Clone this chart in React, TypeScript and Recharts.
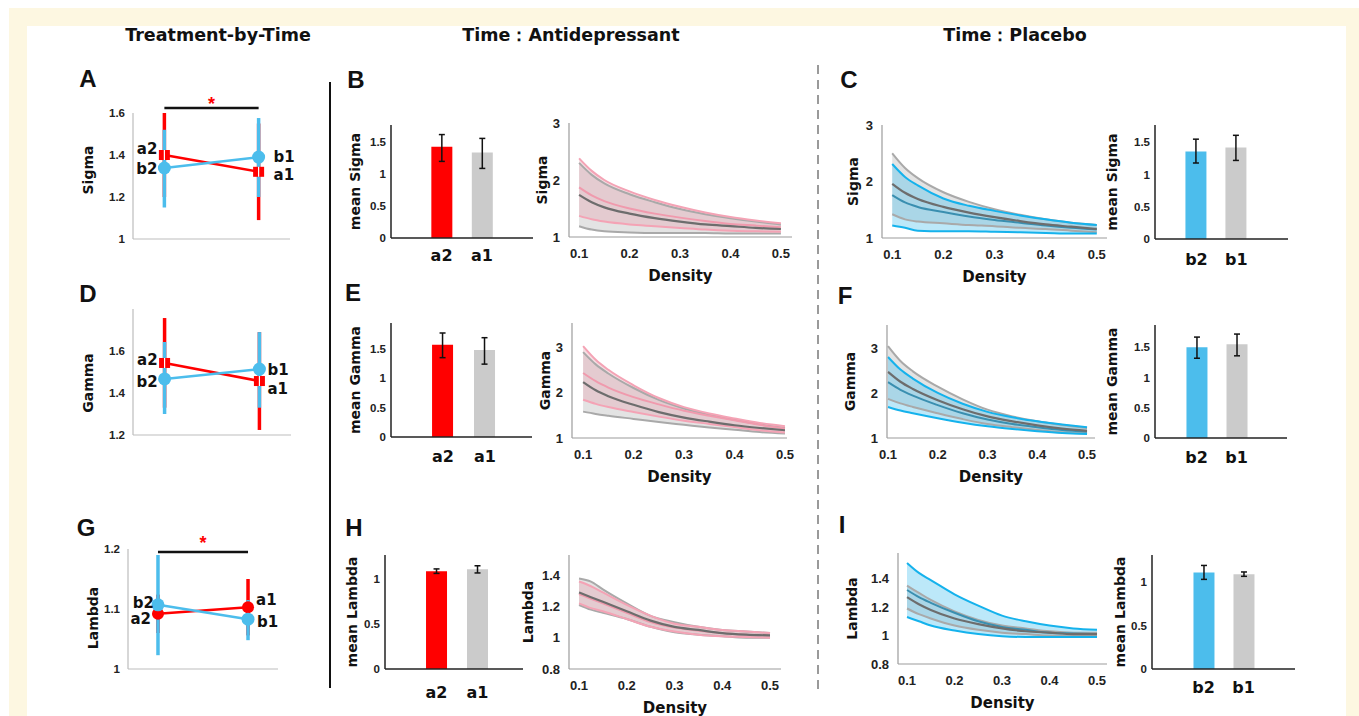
import React from 'react';
import { ComposedChart, Line, Area, Bar, Cell, XAxis, YAxis, ErrorBar, ReferenceLine } from 'recharts';

const TICK_FONT = "'Liberation Sans', Arial, sans-serif";
const TITLE_FONT = "'DejaVu Sans', 'Liberation Sans', sans-serif";
const RED = '#ff0000';
const BLUE = '#4cbdec';
const LIGHT_GRAY = '#cbcbcb';

// ---------- data ----------
const sessions = [1, 2];
const antiNames = ['a2', 'a1'];
const placNames = ['b2', 'b1'];
const density = [0.1, 0.125, 0.15, 0.2, 0.25, 0.3, 0.35, 0.4, 0.45, 0.5];
const densityTicks = [0.1, 0.2, 0.3, 0.4, 0.5];

// treatment-by-time (mean, lower, upper) for a2/a1 and b2/b1
const sigmaAntiMean = [1.4, 1.32];
const sigmaAntiLo = [1.2, 1.09];
const sigmaAntiHi = [1.6, 1.55];
const sigmaPlacMean = [1.338, 1.39];
const sigmaPlacLo = [1.15, 1.2];
const sigmaPlacHi = [1.52, 1.576];

const gammaAntiMean = [1.543, 1.457];
const gammaAntiLo = [1.33, 1.224];
const gammaAntiHi = [1.757, 1.69];
const gammaPlacMean = [1.467, 1.514];
const gammaPlacLo = [1.3, 1.33];
const gammaPlacHi = [1.643, 1.69];

const lambdaAntiMean = [1.092, 1.103];
const lambdaAntiLo = [1.06, 1.056];
const lambdaAntiHi = [1.124, 1.15];
const lambdaPlacMean = [1.107, 1.083];
const lambdaPlacLo = [1.023, 1.048];
const lambdaPlacHi = [1.19, 1.115];

// bar charts
const sigmaBarAnti = [1.43, 1.34];
const sigmaBarAntiLo = [1.2, 1.09];
const sigmaBarAntiHi = [1.62, 1.56];
const sigmaBarPlac = [1.36, 1.42];
const sigmaBarPlacLo = [1.18, 1.22];
const sigmaBarPlacHi = [1.55, 1.61];

const gammaBarAnti = [1.57, 1.48];
const gammaBarAntiLo = [1.35, 1.24];
const gammaBarAntiHi = [1.77, 1.69];
const gammaBarPlac = [1.5, 1.55];
const gammaBarPlacLo = [1.32, 1.36];
const gammaBarPlacHi = [1.67, 1.72];

const lambdaBarAnti = [1.09, 1.11];
const lambdaBarAntiLo = [1.065, 1.07];
const lambdaBarAntiHi = [1.115, 1.15];
const lambdaBarPlac = [1.11, 1.09];
const lambdaBarPlacLo = [1.03, 1.065];
const lambdaBarPlacHi = [1.19, 1.115];

// curves over density: upper / mean / lower
const sigmaA2Up = [2.38, 2.16, 2.0, 1.8, 1.65, 1.53, 1.43, 1.35, 1.29, 1.24];
const sigmaA2Mid = [1.87, 1.73, 1.63, 1.5, 1.41, 1.34, 1.28, 1.23, 1.2, 1.17];
const sigmaA2Low = [1.37, 1.31, 1.27, 1.22, 1.19, 1.16, 1.13, 1.11, 1.1, 1.09];
const sigmaA1Up = [2.3, 2.09, 1.94, 1.75, 1.61, 1.49, 1.4, 1.33, 1.27, 1.22];
const sigmaA1Mid = [1.74, 1.61, 1.52, 1.41, 1.33, 1.27, 1.22, 1.19, 1.16, 1.14];
const sigmaA1Low = [1.19, 1.13, 1.1, 1.08, 1.07, 1.07, 1.07, 1.06, 1.06, 1.06];

const sigmaB2Up = [2.31, 2.08, 1.93, 1.7, 1.57, 1.48, 1.4, 1.33, 1.27, 1.23];
const sigmaB2Mid = [1.76, 1.63, 1.55, 1.46, 1.38, 1.32, 1.27, 1.22, 1.18, 1.15];
const sigmaB2Low = [1.22, 1.18, 1.13, 1.12, 1.12, 1.11, 1.1, 1.09, 1.08, 1.08];
const sigmaB1Up = [2.5, 2.24, 2.06, 1.81, 1.64, 1.51, 1.41, 1.33, 1.27, 1.23];
const sigmaB1Mid = [1.96, 1.8, 1.69, 1.55, 1.45, 1.37, 1.3, 1.24, 1.2, 1.16];
const sigmaB1Low = [1.42, 1.33, 1.29, 1.26, 1.23, 1.21, 1.18, 1.16, 1.13, 1.1];

const gammaA2Up = [3.02, 2.72, 2.5, 2.16, 1.88, 1.68, 1.54, 1.43, 1.33, 1.26];
const gammaA2Mid = [2.43, 2.25, 2.11, 1.9, 1.74, 1.6, 1.49, 1.39, 1.29, 1.21];
const gammaA2Low = [1.84, 1.75, 1.68, 1.57, 1.47, 1.38, 1.31, 1.24, 1.17, 1.12];
const gammaA1Up = [2.89, 2.62, 2.42, 2.1, 1.84, 1.65, 1.51, 1.4, 1.3, 1.22];
const gammaA1Mid = [2.23, 2.05, 1.92, 1.73, 1.57, 1.45, 1.36, 1.28, 1.22, 1.17];
const gammaA1Low = [1.58, 1.53, 1.49, 1.42, 1.35, 1.29, 1.23, 1.18, 1.13, 1.1];

const gammaB2Up = [2.8, 2.52, 2.32, 2.0, 1.76, 1.58, 1.46, 1.37, 1.3, 1.24];
const gammaB2Mid = [2.24, 2.07, 1.94, 1.73, 1.55, 1.41, 1.31, 1.24, 1.18, 1.14];
const gammaB2Low = [1.69, 1.61, 1.55, 1.44, 1.34, 1.26, 1.2, 1.15, 1.11, 1.09];
const gammaB1Up = [3.04, 2.71, 2.48, 2.14, 1.86, 1.63, 1.48, 1.37, 1.29, 1.22];
const gammaB1Mid = [2.47, 2.25, 2.09, 1.84, 1.64, 1.48, 1.37, 1.28, 1.21, 1.16];
const gammaB1Low = [1.87, 1.77, 1.69, 1.55, 1.42, 1.31, 1.24, 1.18, 1.13, 1.1];

const lambdaA2Up = [1.36, 1.33, 1.29, 1.21, 1.14, 1.09, 1.07, 1.05, 1.04, 1.03];
const lambdaA2Mid = [1.28, 1.25, 1.22, 1.16, 1.1, 1.065, 1.045, 1.03, 1.02, 1.015];
const lambdaA2Low = [1.22, 1.19, 1.17, 1.12, 1.07, 1.04, 1.02, 1.01, 1.005, 1.0];
const lambdaA1Up = [1.38, 1.36, 1.31, 1.22, 1.14, 1.1, 1.07, 1.05, 1.04, 1.03];
const lambdaA1Mid = [1.29, 1.26, 1.23, 1.17, 1.11, 1.07, 1.05, 1.03, 1.02, 1.015];
const lambdaA1Low = [1.21, 1.18, 1.16, 1.12, 1.07, 1.035, 1.02, 1.01, 1.0, 1.0];

const lambdaB2Up = [1.51, 1.44, 1.39, 1.29, 1.21, 1.14, 1.1, 1.07, 1.05, 1.04];
const lambdaB2Mid = [1.32, 1.27, 1.23, 1.16, 1.1, 1.06, 1.04, 1.02, 1.015, 1.01];
const lambdaB2Low = [1.13, 1.1, 1.07, 1.035, 1.01, 0.995, 0.99, 0.99, 0.99, 0.99];
const lambdaB1Up = [1.35, 1.3, 1.25, 1.17, 1.11, 1.07, 1.05, 1.03, 1.02, 1.02];
const lambdaB1Mid = [1.27, 1.22, 1.18, 1.12, 1.08, 1.05, 1.03, 1.02, 1.01, 1.01];
const lambdaB1Low = [1.19, 1.15, 1.12, 1.07, 1.04, 1.02, 1.01, 1.0, 1.0, 1.0];

// ---------- helpers ----------
type Rect = { x0: number; y0: number; x1: number; y1: number };
type Pad = { l: number; r: number; t: number; b: number };

const box = (r: Rect, p: Pad) => ({
  left: r.x0 - p.l,
  top: r.y0 - p.t,
  width: r.x1 - r.x0 + p.l + p.r,
  height: r.y1 - r.y0 + p.t + p.b,
});

const fmt = (v: number) => String(Number(v.toFixed(2)));

const yTitle = (text: string, x: number, y: number, size = 14) => () => (
  <text
    x={x}
    y={y}
    transform={`rotate(-90 ${x} ${y})`}
    textAnchor="middle"
    dominantBaseline="central"
    fontSize={size}
    fontWeight={700}
    fontFamily={TITLE_FONT}
    fill="#111"
  >
    {text}
  </text>
);

const xTitle = (text: string, x: number, y: number) => () => (
  <text x={x} y={y} textAnchor="middle" dominantBaseline="central" fontSize={15} fontWeight={700} fontFamily={TITLE_FONT} fill="#111">
    {text}
  </text>
);

// ---------- treatment-by-time panel ----------
type Lab = { dx: number; dy: number };

function TrendPanel(props: {
  rect: Rect;
  yDomain: number[];
  yTicks: number[];
  title: string;
  titleX: number;
  titleDy: number;
  redMean: number[];
  redLo: number[];
  redHi: number[];
  blueMean: number[];
  blueLo: number[];
  blueHi: number[];
  redShape: 'square' | 'circle';
  redLabs: Lab[];
  blueLabs: Lab[];
  sigY?: number;
  starDy?: number;
}) {
  const { rect, redMean, redLo, redHi, blueMean, blueLo, blueHi } = props;
  const pad = { l: 60, r: 40, t: 40, b: 20 };
  const b = box(rect, pad);
  const rows = sessions.map((s, i) => ({
    x: s,
    red: redMean[i],
    redErr: [redMean[i] - redLo[i], redHi[i] - redMean[i]],
    blue: blueMean[i],
    blueErr: [blueMean[i] - blueLo[i], blueHi[i] - blueMean[i]],
  }));
  const labText = (x: number, y: number, l: Lab, t: string) => (
    <text x={x + l.dx} y={y + l.dy} textAnchor={l.dx < 0 ? 'end' : 'start'} dominantBaseline="central" fontSize={15} fontWeight={700} fontFamily={TITLE_FONT} fill="#111">
      {t}
    </text>
  );
  const redDot = (p: any) => {
    const { cx, cy, index } = p;
    return (
      <g key={`r${index}`}>
        {props.redShape === 'square' ? (
          <>
            <rect x={cx - 5.5} y={cy - 5} width={11} height={10} fill={RED} />
            <line x1={cx} x2={cx} y1={cy - 5} y2={cy + 5} stroke="#fff" strokeWidth={1.2} />
          </>
        ) : (
          <circle cx={cx} cy={cy} r={6} fill={RED} />
        )}
        {labText(cx, cy, props.redLabs[index], antiNames[index])}
      </g>
    );
  };
  const blueDot = (p: any) => {
    const { cx, cy, index } = p;
    return (
      <g key={`b${index}`}>
        <circle cx={cx} cy={cy} r={6.5} fill={BLUE} />
        {labText(cx, cy, props.blueLabs[index], placNames[index])}
      </g>
    );
  };
  const star = (p: any) => {
    const vb = p.viewBox || {};
    const x = (vb.x ?? 0) + (vb.width ?? 0) / 2;
    return (
      <text x={x} y={(vb.y ?? 0) + (props.starDy ?? 0)} textAnchor="middle" fontSize={18} fontWeight={700} fontFamily={TICK_FONT} fill={RED}>
        *
      </text>
    );
  };
  const ph = rect.y1 - rect.y0;
  return (
    <div style={{ position: 'absolute', left: b.left, top: b.top }}>
      <ComposedChart width={b.width} height={b.height} data={rows} margin={{ top: pad.t, right: pad.r, left: 0, bottom: 0 }}>
        <XAxis type="number" dataKey="x" domain={[0.667, 2.333]} height={pad.b} tick={false} tickLine={false} axisLine={{ stroke: '#bdbdbd', strokeWidth: 1.2 }} />
        <YAxis
          type="number"
          domain={props.yDomain}
          ticks={props.yTicks}
          interval={0}
          width={pad.l}
          tickSize={0}
          tickMargin={8}
          tickFormatter={fmt}
          axisLine={{ stroke: '#bdbdbd', strokeWidth: 1.2 }}
          tick={{ fontSize: 11.5, fontWeight: 700, fill: '#222', fontFamily: TICK_FONT }}
          label={yTitle(props.title, props.titleX - b.left, pad.t + ph / 2 + props.titleDy)}
        />
        {props.sigY !== undefined && (
          <ReferenceLine
            segment={[{ x: 1, y: props.sigY }, { x: 2, y: props.sigY }]}
            stroke="#111"
            strokeWidth={2.5}
            ifOverflow="visible"
            label={star}
          />
        )}
        <Line dataKey="red" stroke={RED} strokeWidth={2.5} dot={redDot} activeDot={false} isAnimationActive={false}>
          <ErrorBar dataKey="redErr" direction="y" width={0} stroke={RED} strokeWidth={3.5} />
        </Line>
        <Line dataKey="blue" stroke={BLUE} strokeWidth={2.5} dot={blueDot} activeDot={false} isAnimationActive={false}>
          <ErrorBar dataKey="blueErr" direction="y" width={0} stroke={BLUE} strokeWidth={3.5} />
        </Line>
      </ComposedChart>
    </div>
  );
}

// ---------- bar panel ----------
function BarPanel(props: {
  rect: Rect;
  yMax: number;
  yTicks: number[];
  xDomain: number[];
  names: string[];
  means: number[];
  lows: number[];
  highs: number[];
  colors: string[];
  title: string;
  titleX: number;
  labelMargin: number;
}) {
  const { rect, names, means, lows, highs } = props;
  const pad = { l: 60, r: 10, t: 10, b: 40 };
  const b = box(rect, pad);
  const ph = rect.y1 - rect.y0;
  const rows = names.map((n, i) => ({ x: i + 1, mean: means[i], err: [means[i] - lows[i], highs[i] - means[i]] }));
  return (
    <div style={{ position: 'absolute', left: b.left, top: b.top }}>
      <ComposedChart width={b.width} height={b.height} data={rows} margin={{ top: pad.t, right: pad.r, left: 0, bottom: 0 }}>
        <XAxis
          type="number"
          dataKey="x"
          domain={props.xDomain}
          allowDataOverflow
          ticks={[1, 2]}
          interval={0}
          tickFormatter={(v) => names[v - 1]}
          height={pad.b}
          tickSize={0}
          tickMargin={props.labelMargin}
          axisLine={{ stroke: '#222', strokeWidth: 1.5 }}
          tick={{ fontSize: 16, fontWeight: 700, fill: '#111', fontFamily: TITLE_FONT }}
        />
        <YAxis
          type="number"
          domain={[0, props.yMax]}
          allowDataOverflow
          ticks={props.yTicks}
          interval={0}
          width={pad.l}
          tickSize={0}
          tickMargin={5}
          tickFormatter={fmt}
          axisLine={{ stroke: '#222', strokeWidth: 1.5 }}
          tick={{ fontSize: 11.5, fontWeight: 700, fill: '#222', fontFamily: TICK_FONT }}
          label={yTitle(props.title, props.titleX - b.left, pad.t + ph / 2)}
        />
        <Bar dataKey="mean" barSize={21} isAnimationActive={false}>
          {rows.map((r, i) => (
            <Cell key={i} fill={props.colors[i]} />
          ))}
          <ErrorBar dataKey="err" direction="y" width={3} stroke="#111" strokeWidth={1.5} />
        </Bar>
      </ComposedChart>
    </div>
  );
}

// ---------- density curve panel ----------
const SCHEMES = {
  pink: { line: '#f4a3b5', mid: '#f09aad', fill: '#e8a6b4', opacity: 0.38 },
  blue: { line: '#15b2ec', mid: '#3a8fb0', fill: '#4ec3ef', opacity: 0.38 },
};

function CurvePanel(props: {
  rect: Rect;
  yDomain: number[];
  yTicks: number[];
  xDomain: number[];
  title: string;
  titleX: number;
  scheme: 'pink' | 'blue';
  grayUp: number[];
  grayMid: number[];
  grayLow: number[];
  colUp: number[];
  colMid: number[];
  colLow: number[];
}) {
  const { rect, grayUp, grayMid, grayLow, colUp, colMid, colLow } = props;
  const pad = { l: 60, r: 12, t: 12, b: 52 };
  const b = box(rect, pad);
  const pw = rect.x1 - rect.x0;
  const ph = rect.y1 - rect.y0;
  const c = SCHEMES[props.scheme];
  const rows = density.map((x, i) => ({
    x,
    gu: grayUp[i],
    gm: grayMid[i],
    gl: grayLow[i],
    cu: colUp[i],
    cm: colMid[i],
    cl: colLow[i],
    gBand: [grayLow[i], grayUp[i]],
    cBand: [colLow[i], colUp[i]],
  }));
  const tick = { fontSize: 13, fontWeight: 700, fill: '#222', fontFamily: TICK_FONT };
  return (
    <div style={{ position: 'absolute', left: b.left, top: b.top }}>
      <ComposedChart width={b.width} height={b.height} data={rows} margin={{ top: pad.t, right: pad.r, left: 0, bottom: 0 }}>
        <XAxis
          type="number"
          dataKey="x"
          domain={props.xDomain}
          allowDataOverflow
          ticks={densityTicks}
          interval={0}
          tickFormatter={(v) => v.toFixed(1)}
          height={pad.b}
          tickSize={0}
          tickMargin={12}
          axisLine={{ stroke: '#9c9c9c', strokeWidth: 1.2 }}
          tick={tick}
          label={xTitle('Density', pad.l + pw / 2, pad.t + ph + 39)}
        />
        <YAxis
          type="number"
          domain={props.yDomain}
          allowDataOverflow
          ticks={props.yTicks}
          interval={0}
          width={pad.l}
          tickSize={0}
          tickMargin={9}
          tickFormatter={fmt}
          axisLine={{ stroke: '#9c9c9c', strokeWidth: 1.2 }}
          tick={tick}
          label={yTitle(props.title, props.titleX - b.left, pad.t + ph / 2)}
        />
        <Area dataKey="gBand" type="monotone" stroke="none" fill="#b9b9b9" fillOpacity={0.4} isAnimationActive={false} />
        <Area dataKey="cBand" type="monotone" stroke="none" fill={c.fill} fillOpacity={c.opacity} isAnimationActive={false} />
        <Line dataKey="gl" type="monotone" stroke="#a9a9a9" strokeWidth={2} dot={false} activeDot={false} isAnimationActive={false} />
        <Line dataKey="gu" type="monotone" stroke="#a9a9a9" strokeWidth={2} dot={false} activeDot={false} isAnimationActive={false} />
        <Line dataKey="cl" type="monotone" stroke={c.line} strokeWidth={2} dot={false} activeDot={false} isAnimationActive={false} />
        <Line dataKey="cu" type="monotone" stroke={c.line} strokeWidth={2} dot={false} activeDot={false} isAnimationActive={false} />
        <Line dataKey="cm" type="monotone" stroke={c.mid} strokeWidth={2} dot={false} activeDot={false} isAnimationActive={false} />
        <Line dataKey="gm" type="monotone" stroke="#6d6d6d" strokeWidth={2.2} dot={false} activeDot={false} isAnimationActive={false} />
      </ComposedChart>
    </div>
  );
}

// ---------- page ----------
const Letter = ({ x, y, t }: { x: number; y: number; t: string }) => (
  <div style={{ position: 'absolute', left: x, top: y, transform: 'translate(-50%, -50%)', fontFamily: TICK_FONT, fontWeight: 700, fontSize: 24, lineHeight: 1, color: '#111' }}>{t}</div>
);

const Header = ({ x, t }: { x: number; t: string }) => (
  <div style={{ position: 'absolute', left: x, top: 36, transform: 'translate(-50%, -50%)', fontFamily: TITLE_FONT, fontWeight: 700, fontSize: 17.5, lineHeight: 1, whiteSpace: 'nowrap', color: '#111' }}>{t}</div>
);

export default function App() {
  return (
    <div style={{ position: 'absolute', left: 0, top: 0, width: 1359, height: 716, overflow: 'hidden', background: '#fff' }}>
      <div style={{ position: 'absolute', left: 9, top: 8, right: 0, bottom: 0, background: '#fdf7e1' }} />
      <div style={{ position: 'absolute', left: 27, top: 26, width: 1319, bottom: 0, background: '#fff' }} />

      <Header x={218} t="Treatment-by-Time" />
      <Header x={571} t="Time：Antidepressant" />
      <Header x={1015} t="Time：Placebo" />

      <div style={{ position: 'absolute', left: 329, top: 82, width: 2, height: 606, background: '#111' }} />
      <svg style={{ position: 'absolute', left: 812, top: 60 }} width={12} height={635}>
        <line x1={6} x2={6} y1={5} y2={630} stroke="#9a9a9a" strokeWidth={2} strokeDasharray="9 6" />
      </svg>

      <Letter x={88} y={79} t="A" />
      <Letter x={356} y={80} t="B" />
      <Letter x={849} y={80} t="C" />
      <Letter x={88} y={294} t="D" />
      <Letter x={353} y={293} t="E" />
      <Letter x={845} y={296} t="F" />
      <Letter x={86} y={528} t="G" />
      <Letter x={354} y={528} t="H" />
      <Letter x={842} y={525} t="I" />

      <TrendPanel
        rect={{ x0: 133, y0: 113, x1: 290, y1: 239 }}
        yDomain={[1, 1.6]}
        yTicks={[1, 1.2, 1.4, 1.6]}
        title="Sigma"
        titleX={88}
        titleDy={-6}
        redMean={sigmaAntiMean}
        redLo={sigmaAntiLo}
        redHi={sigmaAntiHi}
        blueMean={sigmaPlacMean}
        blueLo={sigmaPlacLo}
        blueHi={sigmaPlacHi}
        redShape="square"
        redLabs={[{ dx: -7, dy: -6 }, { dx: 15, dy: 3 }]}
        blueLabs={[{ dx: -7, dy: 1 }, { dx: 15, dy: 0 }]}
        sigY={1.624}
        starDy={2}
      />
      <TrendPanel
        rect={{ x0: 133, y0: 309, x1: 291, y1: 435 }}
        yDomain={[1.2, 1.8]}
        yTicks={[1.2, 1.4, 1.6]}
        title="Gamma"
        titleX={88}
        titleDy={11}
        redMean={gammaAntiMean}
        redLo={gammaAntiLo}
        redHi={gammaAntiHi}
        blueMean={gammaPlacMean}
        blueLo={gammaPlacLo}
        blueHi={gammaPlacHi}
        redShape="square"
        redLabs={[{ dx: -7, dy: -3 }, { dx: 8, dy: 8 }]}
        blueLabs={[{ dx: -7, dy: 3 }, { dx: 8, dy: 1 }]}
      />
      <TrendPanel
        rect={{ x0: 128, y0: 549, x1: 278, y1: 669 }}
        yDomain={[1, 1.2]}
        yTicks={[1, 1.1, 1.2]}
        title="Lambda"
        titleX={93}
        titleDy={9}
        redMean={lambdaAntiMean}
        redLo={lambdaAntiLo}
        redHi={lambdaAntiHi}
        blueMean={lambdaPlacMean}
        blueLo={lambdaPlacLo}
        blueHi={lambdaPlacHi}
        redShape="circle"
        redLabs={[{ dx: -7, dy: 5 }, { dx: 8, dy: -7 }]}
        blueLabs={[{ dx: -4, dy: -2 }, { dx: 9, dy: 3 }]}
        sigY={1.195}
        starDy={-3}
      />

      <BarPanel rect={{ x0: 391, y0: 125, x1: 533, y1: 238 }} yMax={1.77} yTicks={[0, 0.5, 1, 1.5]} xDomain={[-0.25, 3.26]} names={antiNames} means={sigmaBarAnti} lows={sigmaBarAntiLo} highs={sigmaBarAntiHi} colors={[RED, LIGHT_GRAY]} title="mean Sigma" titleX={355} labelMargin={12} />
      <BarPanel rect={{ x0: 1155, y0: 125, x1: 1288, y1: 239 }} yMax={1.77} yTicks={[0, 0.5, 1, 1.5]} xDomain={[-0.036, 3.29]} names={placNames} means={sigmaBarPlac} lows={sigmaBarPlacLo} highs={sigmaBarPlacHi} colors={[BLUE, LIGHT_GRAY]} title="mean Sigma" titleX={1112} labelMargin={15} />
      <BarPanel rect={{ x0: 391, y0: 323, x1: 532, y1: 437 }} yMax={1.94} yTicks={[0, 0.5, 1, 1.5]} xDomain={[-0.24, 3.12]} names={antiNames} means={gammaBarAnti} lows={gammaBarAntiLo} highs={gammaBarAntiHi} colors={[RED, LIGHT_GRAY]} title="mean Gamma" titleX={355} labelMargin={14} />
      <BarPanel rect={{ x0: 1155, y0: 325, x1: 1287, y1: 438 }} yMax={1.87} yTicks={[0, 0.5, 1, 1.5]} xDomain={[-0.036, 3.26]} names={placNames} means={gammaBarPlac} lows={gammaBarPlacLo} highs={gammaBarPlacHi} colors={[BLUE, LIGHT_GRAY]} title="mean Gamma" titleX={1112} labelMargin={14} />
      <BarPanel rect={{ x0: 385, y0: 555, x1: 523, y1: 669 }} yMax={1.27} yTicks={[0, 0.5, 1]} xDomain={[-0.257, 3.11]} names={antiNames} means={lambdaBarAnti} lows={lambdaBarAntiLo} highs={lambdaBarAntiHi} colors={[RED, LIGHT_GRAY]} title="mean Lambda" titleX={352} labelMargin={18} />
      <BarPanel rect={{ x0: 1152, y0: 555, x1: 1295, y1: 669 }} yMax={1.31} yTicks={[0, 0.5, 1]} xDomain={[-0.287, 3.288]} names={placNames} means={lambdaBarPlac} lows={lambdaBarPlacLo} highs={lambdaBarPlacHi} colors={[BLUE, LIGHT_GRAY]} title="mean Lambda" titleX={1120} labelMargin={13} />

      <CurvePanel rect={{ x0: 569, y0: 123, x1: 792, y1: 237 }} yDomain={[1, 3]} yTicks={[1, 2, 3]} xDomain={[0.08, 0.522]} title="Sigma" titleX={542} scheme="pink" grayUp={sigmaA1Up} grayMid={sigmaA1Mid} grayLow={sigmaA1Low} colUp={sigmaA2Up} colMid={sigmaA2Mid} colLow={sigmaA2Low} />
      <CurvePanel rect={{ x0: 882, y0: 125, x1: 1107, y1: 238 }} yDomain={[1, 3]} yTicks={[1, 2, 3]} xDomain={[0.08, 0.52]} title="Sigma" titleX={853} scheme="blue" grayUp={sigmaB1Up} grayMid={sigmaB1Mid} grayLow={sigmaB1Low} colUp={sigmaB2Up} colMid={sigmaB2Mid} colLow={sigmaB2Low} />
      <CurvePanel rect={{ x0: 572, y0: 323, x1: 787, y1: 438 }} yDomain={[1, 3.53]} yTicks={[1, 2, 3]} xDomain={[0.078, 0.504]} title="Gamma" titleX={545} scheme="pink" grayUp={gammaA1Up} grayMid={gammaA1Mid} grayLow={gammaA1Low} colUp={gammaA2Up} colMid={gammaA2Mid} colLow={gammaA2Low} />
      <CurvePanel rect={{ x0: 887, y0: 325, x1: 1095, y1: 438 }} yDomain={[1, 3.51]} yTicks={[1, 2, 3]} xDomain={[0.098, 0.516]} title="Gamma" titleX={850} scheme="blue" grayUp={gammaB1Up} grayMid={gammaB1Mid} grayLow={gammaB1Low} colUp={gammaB2Up} colMid={gammaB2Mid} colLow={gammaB2Low} />
      <CurvePanel rect={{ x0: 569, y0: 555, x1: 781, y1: 669 }} yDomain={[0.8, 1.53]} yTicks={[0.8, 1, 1.2, 1.4]} xDomain={[0.079, 0.523]} title="Lambda" titleX={528} scheme="pink" grayUp={lambdaA1Up} grayMid={lambdaA1Mid} grayLow={lambdaA1Low} colUp={lambdaA2Up} colMid={lambdaA2Mid} colLow={lambdaA2Low} />
      <CurvePanel rect={{ x0: 898, y0: 553, x1: 1107, y1: 664 }} yDomain={[0.8, 1.58]} yTicks={[0.8, 1, 1.2, 1.4]} xDomain={[0.081, 0.521]} title="Lambda" titleX={852} scheme="blue" grayUp={lambdaB1Up} grayMid={lambdaB1Mid} grayLow={lambdaB1Low} colUp={lambdaB2Up} colMid={lambdaB2Mid} colLow={lambdaB2Low} />
    </div>
  );
}
